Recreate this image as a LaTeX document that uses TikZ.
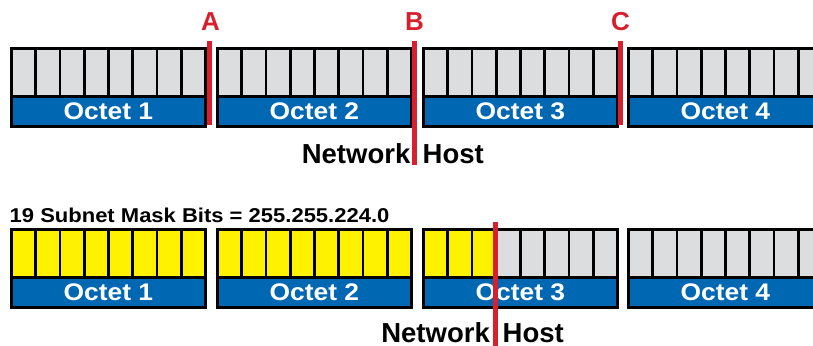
\documentclass[tikz,border=0pt]{standalone}
\usepackage{fontspec}
\setmainfont{Liberation Sans}
\newfontfamily\octfont[FakeStretch=1.1]{Liberation Sans}
\newfontfamily\titlefont[FakeStretch=1.1]{Liberation Sans}
\definecolor{cellgray}{HTML}{DCDDDF}
\definecolor{octblue}{HTML}{0067B2}
\definecolor{bityellow}{HTML}{FFF200}
\definecolor{sepred}{HTML}{D7202E}
\tikzset{
  bitcell/.style={draw=black, line width=2.8pt, minimum width=24.25pt, minimum height=48pt, inner sep=0pt, anchor=north west},
  band/.style={draw=black, fill=octblue, line width=2.8pt, minimum width=194pt, minimum height=30pt, inner sep=0pt, anchor=north west, text=white, font=\octfont\bfseries\fontsize{24}{24}\selectfont},
  sepline/.style={draw=sepred, line width=5pt},
  seplabel/.style={text=sepred, inner sep=0pt, anchor=base, font=\bfseries\fontsize{26}{26}\selectfont},
  sidetext/.style={inner sep=0pt, font=\bfseries\fontsize{27.5}{27.5}\selectfont},
  titletext/.style={inner sep=0pt, anchor=base west, font=\titlefont\bfseries\fontsize{20}{20}\selectfont}
}
\begin{document}
\begin{tikzpicture}[x=1pt, y=-1pt]
\useasboundingbox (0,0) rectangle (813,345);
\clip (0,0) rectangle (813,345);
% octets, two rows
\foreach \r/\T/\ya/\yb/\yc/\yd in {1/47/0/0/0/0, 2/228/8/8/3/0}{
  \foreach \o/\L/\ny in {1/10/\ya, 2/216/\yb, 3/422/\yc, 4/627/\yd}{
    \foreach \c in {1,...,8}{
      \ifnum\c>\ny \def\fc{cellgray}\else\def\fc{bityellow}\fi
      \node[bitcell, fill=\fc] (r\r o\o c\c) at ({\L+(\c-1)*24.25}, \T) {};
    }
    \node[band] (r\r b\o) at (\L, \T+48) {Octet \o};
  }
}
% top row separators
\node[seplabel] (labA) at (210.5, 31) {A};
\node[seplabel] (labB) at (414.5, 31) {B};
\node[seplabel] (labC) at (620.5, 31) {C};
\coordinate (Atop) at (209.5, 41); \coordinate (Abot) at (209.5, 125);
\coordinate (Btop) at (414, 41);   \coordinate (Bbot) at (414, 165);
\coordinate (Ctop) at (620, 41);   \coordinate (Cbot) at (620, 125);
\draw[sepline] (Atop) -- (Abot);
\draw[sepline] (Btop) -- (Bbot);
\draw[sepline] (Ctop) -- (Cbot);
\node[sidetext, anchor=base east] (net1) at (410.5, 163) {Network};
\node[sidetext, anchor=base west] (host1) at (422.5, 163) {Host};
% bottom row
\node[titletext] (title) at (9.5, 222.5) {19 Subnet Mask Bits = 255.255.224.0};
\coordinate (Dtop) at (495.3, 221.5); \coordinate (Dbot) at (495.3, 350);
\draw[sepline] (Dtop) -- (Dbot);
\node[sidetext, anchor=base east] (net2) at (490, 342) {Network};
\node[sidetext, anchor=base west] (host2) at (502.5, 342) {Host};
\end{tikzpicture}
\end{document}
